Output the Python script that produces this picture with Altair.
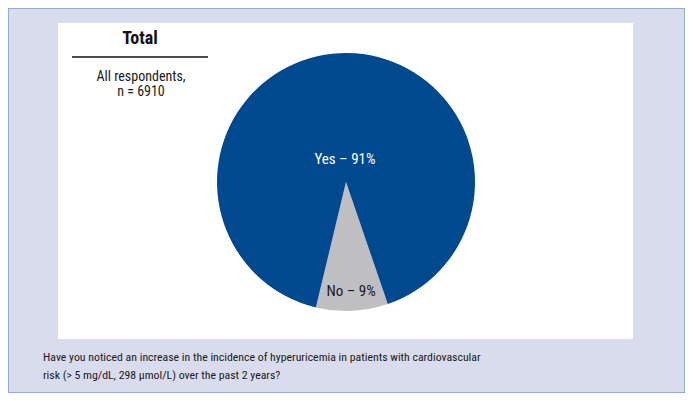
import altair as alt
import pandas as pd
import math

categories = ["No", "Yes"]
values = [9, 91]
sort_keys = [0, 1]
labels = ["No – 9%", "Yes – 91%"]

title_text = "Total"
sub_lines = ["All respondents,", "n = 6910"]
caption_lines = [
    "Have you noticed an increase in the incidence of hyperuricemia in patients with cardiovascular",
    "risk (> 5 mg/dL, 298 μmol/L) over the past 2 years?",
]

FONT = "Roboto Condensed, Liberation Sans Narrow, sans-serif"
BLUE = "#00498f"
GREY = "#bfbfc2"
INK = "#1a1a1a"

df = pd.DataFrame({"cat": categories, "pct": values, "k": sort_keys, "label": labels})

start = math.radians(161.1)
theta_scale = alt.Scale(domain=[0, 100], range=[start, start + 2 * math.pi])

CX, CY, R = 338, 174, 129

base = alt.Chart(df).transform_window(
    cum="sum(pct)", sort=[alt.SortField("k")], frame=[None, 0]
).transform_calculate(
    s="datum.cum - datum.pct", mid="datum.cum - datum.pct / 2"
)

panel = alt.Chart(pd.DataFrame({"a": [0]})).mark_rect(color="white").encode(
    x=alt.value(50), x2=alt.value(625), y=alt.value(15), y2=alt.value(331)
)

arcs = base.mark_arc(radius=R, stroke=None).encode(
    theta=alt.Theta("s:Q", scale=theta_scale),
    theta2="cum:Q",
    color=alt.Color("cat:N", scale=alt.Scale(domain=["Yes", "No"], range=[BLUE, GREY]), legend=None),
    x=alt.value(CX),
    y=alt.value(CY),
)

yes_text = base.transform_filter("datum.cat == 'Yes'").mark_text(
    radius=23, font=FONT, fontSize=15, color="white"
).encode(
    theta=alt.Theta("mid:Q", scale=theta_scale), text="label:N", x=alt.value(CX), y=alt.value(CY)
)

no_text = base.transform_filter("datum.cat == 'No'").mark_text(
    radius=109, font=FONT, fontSize=15, color=INK
).encode(
    theta=alt.Theta("mid:Q", scale=theta_scale), text="label:N", x=alt.value(CX), y=alt.value(CY)
)

one = pd.DataFrame({"a": [0]})

title = alt.Chart(one).mark_text(font=FONT, fontSize=18, fontWeight="bold", color="#111111").encode(
    x=alt.value(132), y=alt.value(31), text=alt.value(title_text)
)
rule = alt.Chart(one).mark_rule(color="#111111", strokeWidth=1.5).encode(
    x=alt.value(64), x2=alt.value(200), y=alt.value(49)
)
sub1 = alt.Chart(one).mark_text(font=FONT, fontSize=14, color=INK).encode(
    x=alt.value(133), y=alt.value(69), text=alt.value(sub_lines[0])
)
sub2 = alt.Chart(one).mark_text(font=FONT, fontSize=14, color=INK).encode(
    x=alt.value(133), y=alt.value(84), text=alt.value(sub_lines[1])
)
cap1 = alt.Chart(one).mark_text(font=FONT, fontSize=11.8, color=INK, align="left").encode(
    x=alt.value(35), y=alt.value(349), text=alt.value(caption_lines[0])
)
cap2 = alt.Chart(one).mark_text(font=FONT, fontSize=11.8, color=INK, align="left").encode(
    x=alt.value(35), y=alt.value(367), text=alt.value(caption_lines[1])
)

chart = alt.layer(
    panel, arcs, yes_text, no_text, title, rule, sub1, sub2, cap1, cap2
).properties(
    width=677, height=385, padding=0,
    autosize=alt.AutoSizeParams(type="fit", contains="padding"),
    background="#d9dcec",
).configure_view(
    fill="#d9dcec", stroke="#7f9bcb", strokeWidth=1.5
)

chart.save("out.html", embed_options={"renderer": "svg", "actions": False})
